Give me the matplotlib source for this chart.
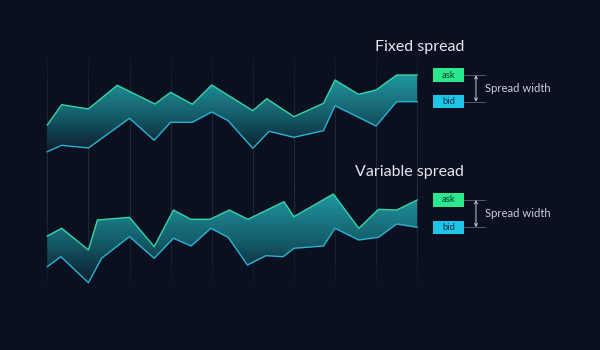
import numpy as np
import matplotlib
matplotlib.use("Agg")
import matplotlib.pyplot as plt
from matplotlib.colors import LinearSegmentedColormap
from matplotlib.patches import Polygon, Rectangle

# time positions (gridline spacing = 1) and price levels
fixed_ask_t = [0, 0.35, 1, 1.7, 2.62, 3, 3.53, 4, 5, 5.34, 6, 6.72, 7, 7.57, 8, 8.5, 9]
fixed_ask = [225, 245.3, 241, 264.7, 246, 257.7, 245.7, 265, 239.3, 251.3, 233.3,
             246.7, 270, 255.7, 260, 275, 275]
fixed_bid_t = [0, 0.35, 1, 2, 2.6, 3, 3.53, 4, 4.4, 5, 5.4, 6, 6.72, 7, 8, 8.5, 9]
fixed_bid = [198.3, 204.7, 202, 231.7, 209.7, 227.7, 227.7, 238, 229.3, 201.7, 218.7,
             212.7, 219.3, 244.3, 224, 248.3, 248.3]

var_ask_t = [0, 0.35, 1, 1.22, 2, 2.6, 3.07, 3.49, 3.96, 4.43, 4.88, 5.76, 6, 6.96,
             7.58, 8.06, 8.5, 9]
var_ask = [114, 121.7, 100, 130, 132.7, 103.3, 140, 130.7, 130.7, 140, 130.7, 148.3,
           133.3, 156, 121.7, 140.7, 140, 150]
var_bid_t = [0, 0.33, 1, 1.32, 2, 2.6, 3.07, 3.5, 3.98, 4.4, 4.87, 5.32, 5.74, 6,
             6.72, 7, 7.58, 8.06, 8.5, 9]
var_bid = [83.3, 93.3, 67.3, 91.7, 113.3, 91.7, 111.7, 104, 121.7, 112.7, 85, 94.3,
           93.3, 101.7, 104, 121.7, 110, 112.7, 126, 122.7]

titles = ["Fixed spread", "Variable spread"]
title_y = [303.3, 178.3]
grid_t = np.arange(10)

bg = "#0a1020"
ask_col = "#36d6a6"
bid_col = "#2ab3d6"

fig = plt.figure(figsize=(6, 3.5), dpi=100, facecolor=bg)
ax = fig.add_axes([0, 0, 1, 1])
ax.set_facecolor(bg)
ax.set_xlim(-1.151, 13.448)
ax.set_ylim(0, 350)
ax.axis("off")

# faint vertical gridlines fading out at both ends
gy = np.linspace(60, 302, 60)
fade = np.sin(np.linspace(0, np.pi, len(gy) - 1)) ** 0.6
for t in grid_t:
    for i in range(len(gy) - 1):
        ax.plot([t, t], [gy[i], gy[i + 1]], color="#2a3346", lw=0.8,
                alpha=0.75 * fade[i], solid_capstyle="butt", zorder=1)

cmap = LinearSegmentedColormap.from_list("band", ["#0c1c2b", "#15606d", "#2097a0"])

panels = [(fixed_ask_t, fixed_ask, fixed_bid_t, fixed_bid),
          (var_ask_t, var_ask, var_bid_t, var_bid)]

for (at, av, bt, bv), title, ty in zip(panels, titles, title_y):
    xs = np.concatenate([at, bt[::-1]])
    ys = np.concatenate([av, bv[::-1]])
    poly = Polygon(np.column_stack([xs, ys]), closed=True, fc="none", ec="none")
    ax.add_patch(poly)
    lo, hi = min(bv), max(av)
    grad = np.linspace(0, 1, 256).reshape(-1, 1)
    im = ax.imshow(grad, cmap=cmap, origin="lower", aspect="auto",
                   extent=[0, 9, lo, hi], zorder=2)
    im.set_clip_path(poly)
    ax.plot(at, av, color=ask_col, lw=1.0, zorder=3)
    ax.plot(bt, bv, color=bid_col, lw=1.0, zorder=3)

    # title
    ax.text(10.14, ty, title, ha="right", va="center", color="#e4e7ee",
            fontsize=11.5, family="Lato")

    # ask / bid tags
    for val, lab, fc, tc in [(av[-1], "ask", "#2be88e", "#0b3b2a"),
                             (bv[-1], "bid", "#1fc5e8", "#0b3347")]:
        ax.add_patch(Rectangle((9.39, val - 6.6), 0.75, 13.2, fc=fc, ec="none", zorder=4))
        ax.text(9.765, val, lab, ha="center", va="center", color=tc,
                fontsize=6.8, family="Lato", zorder=5)

    # spread width bracket
    for val in (av[-1], bv[-1]):
        ax.plot([10.14, 10.65], [val, val], color="#5d6678", lw=0.6, zorder=3)
    ax.annotate("", xy=(10.43, av[-1]), xytext=(10.43, bv[-1]),
                arrowprops=dict(arrowstyle="<->", color="#c4cad6", lw=0.7,
                                mutation_scale=5, shrinkA=0, shrinkB=0))
    ax.text(10.65, (av[-1] + bv[-1]) / 2, "Spread width", ha="left", va="center",
            color="#c9ced8", fontsize=8.1, family="Lato")

fig.savefig("out.png", dpi=100, facecolor=bg)
